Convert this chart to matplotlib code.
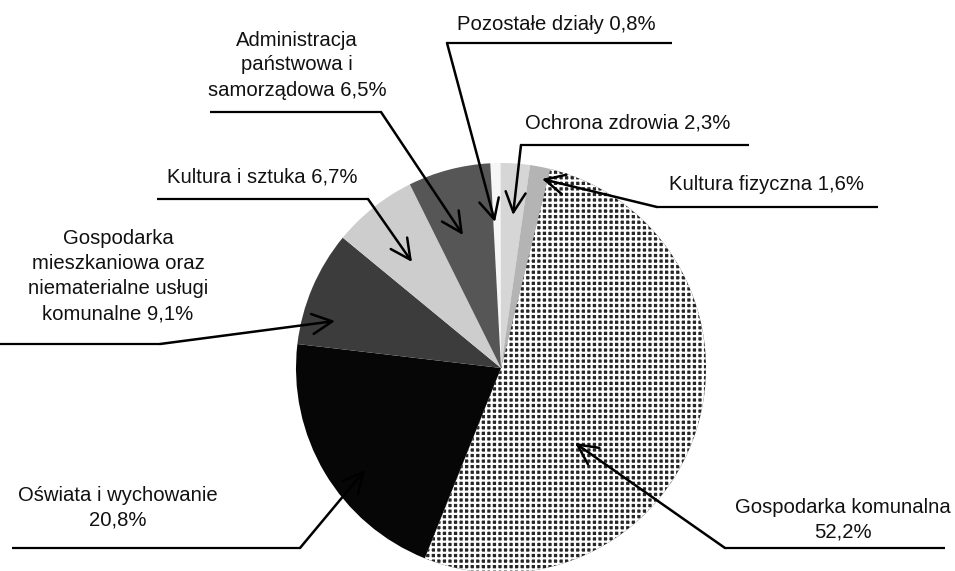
import numpy as np
import matplotlib.pyplot as plt

plt.rcParams['font.family'] = ['Liberation Sans', 'DejaVu Sans']

# shares of the budget (clockwise from the top of the pie)
labels = ['Pozostałe działy 0,8%',
          'Ochrona zdrowia 2,3%',
          'Kultura fizyczna 1,6%',
          'Gospodarka komunalna\n52,2%',
          'Oświata i wychowanie\n20,8%',
          'Gospodarka\nmieszkaniowa oraz\nniematerialne usługi\nkomunalne 9,1%',
          'Kultura i sztuka 6,7%',
          'Administracja\npaństwowa i\nsamorządowa 6,5%']
shares = [0.8, 2.3, 1.6, 52.2, 20.8, 9.1, 6.7, 6.5]

# grey tones of the scanned print
colors = ['#f6f6f6', '#d6d6d6', '#b4b4b4', '#262626', '#060606', '#3c3c3c', '#cdcdcd', '#565656']
hatches = [None, None, None, '+++', None, None, None, None]

# label layout in pixels: text anchor, underline (x0, x1, y), leader start, arrow tip
text_pos = [(556, 25), (628, 123), (766, 185), (843, 520), (118, 508),
            (118, 276), (262, 177), (297, 65)]
underline = [(447, 672, 43), (521, 749, 145), (657, 878, 207), (725, 945, 548),
             (12, 300, 548), (0, 160, 344), (157, 368, 199), (210, 381, 112)]
leader_from = [(447, 43), (521, 145), (657, 207), (725, 548),
               (300, 548), (160, 344), (368, 199), (381, 112)]
tips = [(495, 222), (513, 215), (542, 179), (575, 443),
        (365, 470), (335, 321), (412, 262), (463, 235)]

fig = plt.figure(figsize=(9.55, 5.71), dpi=100)
ax = fig.add_axes([0, 0, 1, 1])

plt.rcParams['hatch.linewidth'] = 1.6
wedges, _ = ax.pie(shares, center=(501, 368), radius=205, startangle=267,
                   counterclock=True, colors=colors,
                   wedgeprops=dict(linewidth=0))
for w, h in zip(wedges, hatches):
    if h:
        w.set_hatch(h)
        w.set_edgecolor('white')

ax.set_xlim(0, 955)
ax.set_ylim(571, 0)
ax.set_aspect('equal')
ax.axis('off')

for lab, tp, ul, lf, tip in zip(labels, text_pos, underline, leader_from, tips):
    ax.text(tp[0], tp[1], lab, ha='center', va='center', fontsize=14.6,
            linespacing=1.4, color='#111111')
    ax.plot([ul[0], ul[1]], [ul[2], ul[2]], color='black', lw=1.6,
            solid_capstyle='butt')
    ax.annotate('', xy=tip, xytext=lf,
                arrowprops=dict(arrowstyle='->,head_length=0.9,head_width=0.45',
                                color='black', lw=1.8, mutation_scale=16,
                                shrinkA=0, shrinkB=0))

fig.savefig('out.png', dpi=100)
